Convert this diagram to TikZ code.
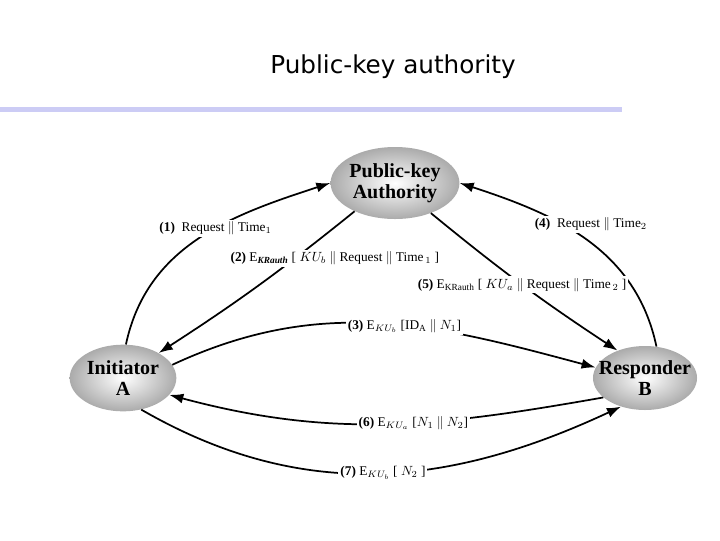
\documentclass[tikz,border=0pt]{standalone}
\usepackage{fontspec}
\setmainfont{Liberation Serif}
\newfontfamily\titlefont{DejaVu Sans}
\usepackage{tikz}
\usetikzlibrary{positioning, shapes.geometric, arrows.meta}
\definecolor{barblue}{RGB}{204,204,245}

\begin{document}
\begin{tikzpicture}[x=0.75pt, y=-0.75pt,
        party/.style={ellipse, shading=radial, inner color=white, outer color=black!33,
            inner sep=0pt, align=center, font=\bfseries\fontsize{15}{15.5}\selectfont},
        msg/.style={-{Latex[length=10.5pt,width=7.5pt]}, line width=1.3pt},
        lbl/.style={fill=white, inner sep=1.5pt, font=\fontsize{10}{10.5}\selectfont}]
                    \useasboundingbox (0,0) rectangle (720,540);
                    % heading
                    \node[font=\titlefont\fontsize{18.5}{20}\selectfont] (title) at (393,67) {Public-key authority};
                    \fill[barblue] (0,107) rectangle (622,112);
                    % the three parties
                    \node[party, minimum width=93pt, minimum height=54pt] (pka) at (395,183) {Public-key\\Authority};
                    \node[party, minimum width=80pt, minimum height=50pt] (ini) at (123,378) {Initiator\\A};
                    \node[party, inner xsep=-7pt, minimum width=78pt, minimum height=48pt] (resp) at (645,378) {Responder\\B};
                    % requests to the authority
                    \draw[msg] (ini.85) to[out=78, in=198]
                        node[lbl, pos=0.57] {\textbf{(1)}\ \ Request $\|$ Time$_1$} (pka.west);
                    \draw[msg] (pka.215) to[bend left=3]
                        node[lbl, pos=0.3, xshift=30pt] {\textbf{(2)} E\textsubscript{\textbf{\textit{KRauth}}} [ $KU_b$ $\|$ Request $\|$ Time$_{\,1}$ ]} (ini.35);
                    \draw[msg] (resp.70) to[out=102, in=-18]
                        node[lbl, pos=0.57, xshift=15pt, yshift=4pt] {\textbf{(4)}\ \ Request $\|$ Time$_2$} (pka.east);
                    \draw[msg] (pka.-40) to[bend right=3]
                        node[lbl, pos=0.5] {\textbf{(5)} E\textsubscript{KRauth} [ $KU_a$ $\|$ Request $\|$ Time$_{\,2}$ ]} (resp.135);
                    % messages between A and B
                    \draw[msg] (ini.15) to[out=25, in=165]
                        node[lbl, pos=0.56] {\textbf{(3)} E$_{KU_b}$ [ID$_{\mathrm{A}}$ $\|$ $N_1$]} (resp.168);
                    \draw[msg] (resp.205) to[out=190, in=-15]
                        node[lbl, pos=0.43] {\textbf{(6)} E$_{KU_a}$ [$N_1$ $\|$ $N_2$]} (ini.-20);
                    \draw[msg] (ini.-60) to[out=-30, in=205]
                        node[lbl, pos=0.51] {\textbf{(7)} E$_{KU_b}$ [ $N_2$ ]} (resp.230);
                \end{tikzpicture}
\end{document}
